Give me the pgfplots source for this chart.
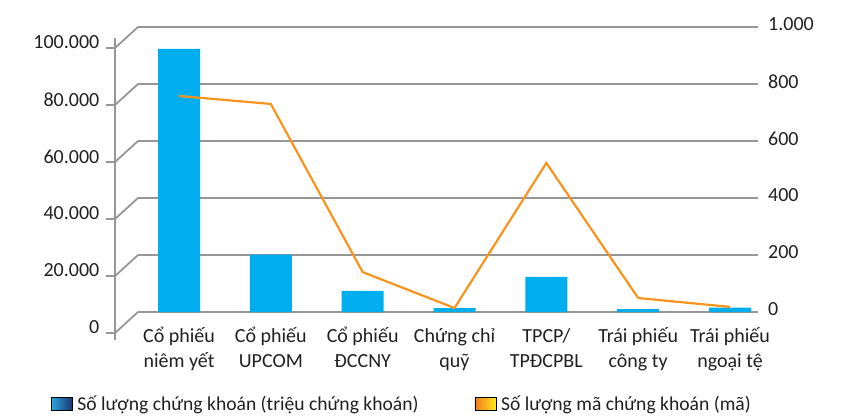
\documentclass[border=0pt]{standalone}
\usepackage{fontspec}
\setmainfont{Carlito}
\usepackage{pgfplots}
\pgfplotsset{compat=1.18}

\definecolor{gridgray}{RGB}{150,150,150}
\definecolor{barblue}{RGB}{0,174,239}
\definecolor{lineorange}{RGB}{247,148,29}
\definecolor{legblueA}{RGB}{42,167,223}
\definecolor{legblueB}{RGB}{28,52,110}
\definecolor{legorA}{RGB}{240,118,30}
\definecolor{legorB}{RGB}{255,232,30}
\definecolor{txt}{RGB}{35,31,32}

\newcommand{\lblfont}{\fontsize{20}{23.5}\selectfont}
\newcommand{\legfont}{\fontsize{19.6}{23}\selectfont}

\begin{document}
\begin{tikzpicture}
\useasboundingbox (-138pt,-106pt) rectangle (708pt,312pt);

% bars, left axis, category labels
\begin{axis}[
  at={(0pt,0pt)}, anchor=south west,
  scale only axis, width=620pt, height=285pt,
  xmin=-0.4465, xmax=6.305, ymin=0, ymax=100000,
  clip=false,
  axis line style={draw=none}, major tick style={draw=none},
  ymajorgrids, grid style={gridgray, line width=1.8pt},
  ytick={0,20000,40000,60000,80000,100000},
  scaled y ticks=false,
  /pgf/number format/fixed,
  /pgf/number format/precision=0,
  /pgf/number format/1000 sep={.},
  /pgf/number format/assume math mode=true,
  yticklabel style={anchor=east, inner sep=0pt, xshift=-38.5pt, yshift=-15.5pt, font=\lblfont, text=txt},
  xtick={0,...,6},
  xticklabels={{Cổ phiếu\\[1pt]niêm yết},{Cổ phiếu\\[1pt]UPCOM},{Cổ phiếu\\[1pt]ĐCCNY},{Chứng chỉ\\[1pt]quỹ},{TPCP/\\[1pt]TPĐCPBL},{Trái phiếu\\[1pt]công ty},{Trái phiếu\\[1pt]ngoại tệ}},
  xticklabel style={align=center, anchor=base, inner sep=0pt, yshift=-51pt, font=\lblfont, text=txt},
  ybar, bar width=42pt, bar shift=0pt,
]
\addplot[fill=barblue, draw=none] coordinates {
  (0,92300) (1,20100) (2,7400) (3,1400) (4,12300) (5,1050) (6,1500)
};
% front "wall" of the left axis
\pgfplotsinvokeforeach{0,20000,40000,60000,80000,100000}{
  \draw[gridgray, line width=1.8pt] (axis cs:-0.4465,#1) -- ++(-23pt,-21pt) -- ++(-9pt,0pt);
}
\draw[gridgray, line width=1.8pt] (axis cs:-0.4465,0) ++(-23pt,-28pt) -- ++(0pt,302pt);
\end{axis}

% line, right axis, legend
\begin{axis}[
  at={(0pt,0pt)}, anchor=south west,
  scale only axis, width=620pt, height=285pt,
  xmin=-0.4465, xmax=6.305, ymin=0, ymax=1000,
  axis x line=none, axis y line*=right,
  axis line style={draw=none}, major tick style={draw=none},
  ytick={0,200,400,600,800,1000},
  /pgf/number format/fixed,
  /pgf/number format/precision=0,
  /pgf/number format/1000 sep={.},
  /pgf/number format/assume math mode=true,
  yticklabel style={anchor=west, inner sep=0pt, xshift=10pt, yshift=2.5pt, font=\lblfont, text=txt},
  legend columns=2,
  legend cell align=left,
  legend style={draw=none, fill=none, inner sep=0pt, outer sep=0pt,
    at={(-0.1403,-0.3228)}, anchor=west,
    font=\legfont, text=txt,
    nodes={inner sep=0pt},
    /tikz/every odd column/.append style={column sep=5pt},
    /tikz/every even column/.append style={column sep=56pt}},
]
\addlegendimage{legend image code/.code={\shade[left color=legblueA, right color=legblueB] (0pt,-6.5pt) rectangle (21pt,6.5pt);}}
\addlegendentry{Số lượng chứng khoán (triệu chứng khoán)}
\addlegendimage{legend image code/.code={\shade[left color=legorA, right color=legorB] (0pt,-6.5pt) rectangle (21pt,6.5pt);}}
\addlegendentry{Số lượng mã chứng khoán (mã)}
\addplot[lineorange, line width=2.2pt, mark=none, forget plot] coordinates {
  (0,758) (1,730) (2,140) (3,14) (4,523) (5,49) (6,18)
};
\end{axis}
\end{tikzpicture}
\end{document}
